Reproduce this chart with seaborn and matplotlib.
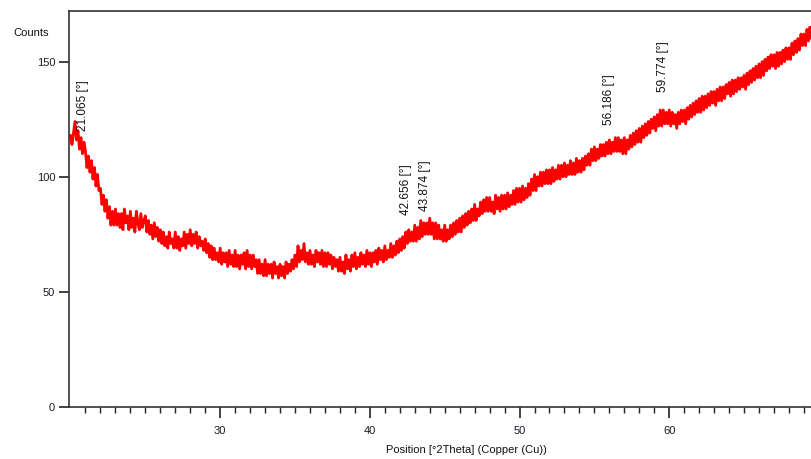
import numpy as np
import pandas as pd
import matplotlib
matplotlib.use("Agg")
import matplotlib.pyplot as plt
from matplotlib.ticker import FixedLocator
import seaborn as sns

# scan grid: 20.0 deg, step 0.1 deg
scan_start = 20.0
scan_step = 0.1

# counts, one row per degree
counts = [
    118, 114, 119, 124, 116, 120, 112, 117, 110, 115,   # 20
    111, 104, 109, 102, 107, 99, 104, 96, 101, 94,      # 21
    95, 88, 92, 85, 90, 82, 87, 79, 85, 79,             # 22
    86, 79, 84, 78, 84, 77, 86, 80, 83, 77,             # 23
    85, 78, 82, 76, 85, 80, 77, 84, 78, 81,             # 24
    83, 76, 81, 75, 79, 73, 80, 74, 78, 72,             # 25
    77, 71, 76, 70, 74, 69, 76, 71, 73, 69,             # 26
    76, 69, 74, 68, 73, 70, 76, 69, 75, 71,             # 27
    77, 70, 75, 71, 76, 69, 74, 70, 72, 68,             # 28
    73, 67, 71, 65, 70, 64, 69, 64, 67, 63,             # 29
    69, 62, 67, 63, 67, 61, 68, 62, 66, 61,             # 30
    68, 61, 66, 60, 66, 62, 67, 60, 68, 61,             # 31
    66, 60, 66, 61, 64, 58, 64, 58, 62, 57,             # 32
    64, 57, 62, 58, 62, 56, 63, 58, 61, 56,             # 33
    62, 57, 61, 56, 63, 58, 62, 59, 64, 60,             # 34
    66, 61, 70, 63, 68, 64, 71, 63, 67, 62,             # 35
    68, 62, 66, 61, 68, 63, 67, 62, 68, 61,             # 36
    67, 61, 67, 62, 66, 60, 65, 61, 64, 59,             # 37
    65, 59, 63, 58, 66, 60, 64, 59, 66, 61,             # 38
    67, 60, 65, 61, 67, 62, 66, 61, 68, 62,             # 39
    67, 61, 67, 63, 68, 62, 69, 64, 68, 63,             # 40
    70, 64, 68, 65, 71, 65, 70, 66, 72, 67,             # 41
    73, 68, 74, 69, 76, 71, 77, 72, 76, 72,             # 42
    79, 72, 78, 73, 81, 74, 80, 75, 80, 75,             # 43
    82, 75, 80, 73, 80, 73, 79, 73, 77, 72,             # 44
    79, 72, 77, 73, 79, 74, 80, 75, 81, 76,             # 45
    82, 76, 83, 78, 84, 79, 85, 80, 86, 81,             # 46
    88, 81, 86, 83, 89, 84, 90, 85, 91, 85,             # 47
    91, 85, 89, 84, 92, 86, 91, 85, 92, 86,             # 48
    92, 86, 93, 87, 92, 88, 94, 88, 95, 89,             # 49
    95, 89, 96, 90, 95, 91, 97, 92, 99, 94,             # 50
    101, 94, 100, 96, 102, 96, 102, 97, 103, 97,        # 51
    103, 97, 104, 98, 103, 99, 105, 99, 105, 100,       # 52
    106, 100, 105, 101, 107, 101, 106, 101, 108, 102,   # 53
    107, 102, 108, 103, 109, 105, 110, 105, 112, 107,   # 54
    113, 107, 112, 108, 114, 109, 114, 109, 115, 110,   # 55
    116, 110, 115, 111, 117, 111, 117, 111, 116, 110,   # 56
    117, 110, 116, 112, 118, 113, 119, 114, 120, 115,   # 57
    121, 115, 122, 117, 123, 118, 124, 119, 125, 121,   # 58
    126, 120, 127, 122, 129, 122, 129, 123, 128, 123,   # 59
    129, 122, 128, 123, 127, 121, 128, 123, 129, 124,   # 60
    129, 123, 130, 125, 131, 126, 132, 127, 133, 128,   # 61
    134, 128, 135, 129, 135, 130, 136, 131, 137, 132,   # 62
    137, 131, 138, 133, 139, 133, 139, 134, 140, 136,   # 63
    141, 135, 142, 136, 142, 137, 143, 138, 143, 139,   # 64
    144, 138, 145, 140, 146, 141, 147, 142, 148, 143,   # 65
    149, 143, 150, 144, 151, 146, 152, 147, 153, 148,   # 66
    153, 147, 154, 148, 154, 149, 155, 150, 156, 151,   # 67
    156, 151, 158, 153, 159, 154, 160, 155, 162, 157,   # 68
    162, 157, 164, 159, 165, 160, 167, 162,             # 69
]

peak_pos = [21.065, 42.656, 43.874, 56.186, 59.774]
peak_label_y = [120, 83.5, 85, 122.5, 137]

x_major = [30, 40, 50, 60]
x_minor = [v for v in range(21, 70) if v not in x_major]
y_major = [0, 50, 100, 150]

two_theta = scan_start + scan_step * np.arange(len(counts))
df = pd.DataFrame({"two_theta": two_theta, "counts": counts})

sns.set_theme(style="white")
plt.rcParams["font.family"] = ["Liberation Sans", "DejaVu Sans"]

fig = plt.figure(figsize=(8.11, 4.59), dpi=100)
ax = fig.add_axes([69 / 811, 52 / 459, 1 - 69 / 811, 396 / 459])

sns.lineplot(data=df, x="two_theta", y="counts", color="#ff0000", linewidth=2.0, ax=ax)

for pos, ly in zip(peak_pos, peak_label_y):
    ax.text(pos - 0.22, ly, f"{pos:.3f} [°]", rotation=90, ha="center", va="bottom",
            fontsize=8.5, color="#111111")

ax.set_xlim(19.9, 69.47)
ax.set_ylim(0, 172)
ax.xaxis.set_major_locator(FixedLocator(x_major))
ax.xaxis.set_minor_locator(FixedLocator(x_minor))
ax.yaxis.set_major_locator(FixedLocator(y_major))
ax.tick_params(axis="x", which="major", length=8, width=1.2, color="#222222",
               labelsize=8, labelcolor="#1a1a2a", direction="out", bottom=True, pad=6)
ax.tick_params(axis="x", which="minor", length=4, width=1.0, color="#222222",
               direction="out", bottom=True)
ax.tick_params(axis="y", which="major", length=7, width=1.2, color="#222222",
               labelsize=8, labelcolor="#1a1a2a", direction="out", left=True, pad=3)
ax.set_xlabel("")
ax.set_ylabel("")

for side in ["left", "top", "bottom"]:
    ax.spines[side].set_color("#333333")
    ax.spines[side].set_linewidth(1.2)
ax.spines["right"].set_visible(False)

fig.text(13 / 811, 1 - 33 / 459, "Counts", fontsize=8, color="#111111", ha="left", va="center")
fig.text(466 / 811, 1 - 450 / 459, "Position [°2Theta] (Copper (Cu))", fontsize=8,
         color="#111111", ha="center", va="center")

fig.savefig("out.png", dpi=100)
